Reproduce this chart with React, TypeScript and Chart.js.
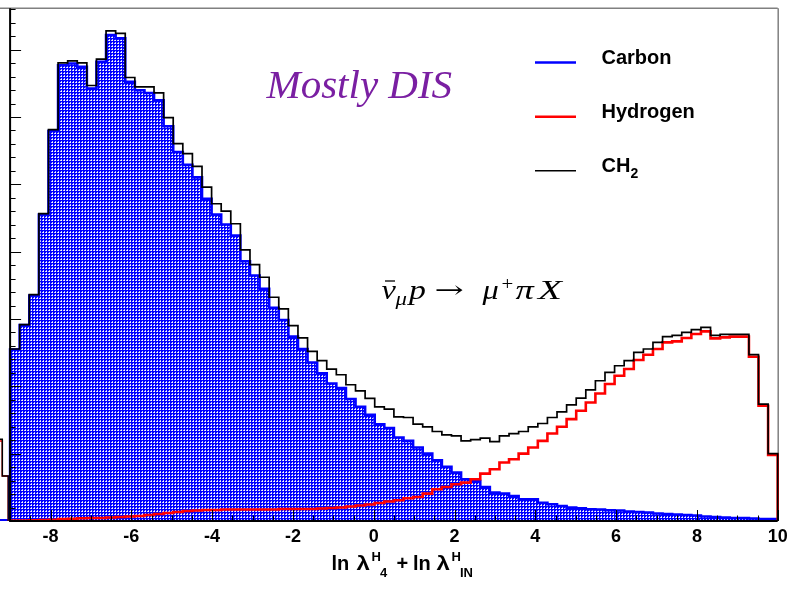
import React, { useEffect, useRef } from 'react';
import { Chart, registerables } from 'chart.js';
Chart.register(...registerables);

// Histogram binning (80 bins from -9 to 10)
const BIN_LOW = -9;
const BIN_HIGH = 10;
const N_BINS = 80;

// Visible x range of the pad (the left sliver shows the neighbouring pad's tail)
const X_VIEW_MIN = -9.25;
const X_VIEW_MAX = 10;
const Y_MAX = 7615;

// Carbon (blue, hatched)
const carbon = [
  2545, 2909, 3348, 4553, 5793, 6770, 6796, 6745, 6424, 6820,
  7217, 7168, 6522, 6398, 6358, 6250, 5863, 5480, 5290, 5104,
  4787, 4553, 4404, 4241, 3858, 3646, 3448, 3165, 2986, 2738,
  2555, 2355, 2192, 2043, 1975, 1811, 1696, 1577, 1436, 1379,
  1240, 1190, 1091, 1001, 903, 804, 719, 620, 595, 506,
  421, 406, 372, 323, 323, 272, 248, 223, 198, 189,
  174, 170, 160, 156, 141, 134, 126, 112, 104, 97,
  89, 82, 67, 60, 52, 45, 45, 37, 30, 30,
];

// Hydrogen (red)
const hydrogen = [
  7, 7, 12, 15, 19, 30, 34, 40, 45, 45,
  52, 60, 67, 74, 89, 104, 119, 134, 149, 156,
  164, 164, 171, 171, 171, 171, 171, 171, 179, 179,
  179, 179, 186, 193, 201, 216, 231, 246, 268, 290,
  308, 338, 357, 406, 472, 506, 546, 570, 621, 704,
  769, 868, 918, 1001, 1091, 1190, 1299, 1399, 1513, 1637,
  1760, 1894, 2034, 2158, 2257, 2391, 2470, 2555, 2653, 2668,
  2719, 2778, 2817, 2713, 2727, 2738, 2738, 2440, 1711, 982,
];

// CH2 (black)
const ch2 = [
  2555, 2916, 3363, 4564, 5814, 6805, 6834, 6805, 6468, 6860,
  7281, 7242, 6587, 6448, 6448, 6358, 5992, 5605, 5456, 5268,
  4960, 4712, 4602, 4415, 4028, 3809, 3620, 3323, 3150, 2902,
  2719, 2519, 2381, 2257, 2172, 2024, 1934, 1820, 1696, 1662,
  1548, 1537, 1439, 1399, 1329, 1280, 1265, 1190, 1210, 1231,
  1180, 1265, 1299, 1329, 1399, 1448, 1537, 1622, 1726, 1826,
  1949, 2083, 2207, 2306, 2381, 2504, 2555, 2653, 2738, 2757,
  2802, 2842, 2876, 2757, 2772, 2772, 2772, 2470, 1735, 1000,
];

// Tail of the neighbouring pad visible left of the y axis
const neighborEdges = [-9.25, -9.193, -9.045];
const neighborCH2 = [1216, 670];
const neighborHydrogen = [1190, 670];
const neighborCarbon = [15, 15];

const xTickLabels = ['-8', '-6', '-4', '-2', '0', '2', '4', '6', '8', '10'];

function histPoints(vals: number[]) {
  const w = (BIN_HIGH - BIN_LOW) / N_BINS;
  const pts: { x: number; y: number }[] = [{ x: BIN_LOW, y: 0 }];
  vals.forEach((v, i) => pts.push({ x: BIN_LOW + i * w, y: v }));
  pts.push({ x: BIN_HIGH, y: 0 });
  return pts;
}

function edgePoints(edges: number[], vals: number[]) {
  const pts = vals.map((v, i) => ({ x: edges[i], y: v }));
  pts.push({ x: edges[edges.length - 1], y: 0 });
  return pts;
}

function makePattern(ctx: CanvasRenderingContext2D) {
  const c = document.createElement('canvas');
  c.width = 3;
  c.height = 3;
  const g = c.getContext('2d')!;
  g.fillStyle = '#0000ff';
  g.fillRect(0, 0, 3, 3);
  g.fillStyle = '#ffffff';
  g.fillRect(1, 1, 1, 1);
  g.fillStyle = '#c4c4ff';
  g.fillRect(0, 1, 1, 1);
  g.fillRect(1, 0, 1, 1);
  return ctx.createPattern(c, 'repeat')!;
}

const SANS = '"Liberation Sans", Arial, Helvetica, sans-serif';
const SERIF = '"Liberation Serif", "Times New Roman", serif';

function drawScaled(ctx: CanvasRenderingContext2D, text: string, x: number, y: number, font: string, sx: number) {
  ctx.save();
  ctx.font = font;
  ctx.translate(x, y);
  ctx.scale(sx, 1);
  ctx.fillText(text, 0, 0);
  ctx.restore();
}

const decorPlugin = {
  id: 'rootDecor',
  beforeDatasetsDraw(chart: any) {
    const { ctx, chartArea } = chart;
    const xs = chart.scales.x;
    ctx.save();
    ctx.strokeStyle = '#808080';
    ctx.lineWidth = 1.5;
    ctx.beginPath();
    ctx.moveTo(0, chartArea.top);
    ctx.lineTo(xs.getPixelForValue(X_VIEW_MAX), chartArea.top);
    ctx.moveTo(xs.getPixelForValue(X_VIEW_MAX) + 0.5, chartArea.top);
    ctx.lineTo(xs.getPixelForValue(X_VIEW_MAX) + 0.5, chartArea.bottom);
    ctx.stroke();
    ctx.restore();
  },
  afterDatasetsDraw(chart: any) {
    const { ctx, chartArea } = chart;
    const xs = chart.scales.x;
    const ys = chart.scales.y;
    const x0 = xs.getPixelForValue(BIN_LOW);
    const x1 = xs.getPixelForValue(X_VIEW_MAX);
    const yb = ys.getPixelForValue(0);
    ctx.save();
    ctx.strokeStyle = '#000';
    ctx.lineWidth = 2;
    ctx.beginPath();
    ctx.moveTo(x0, chartArea.top);
    ctx.lineTo(x0, yb);
    ctx.lineTo(x1, yb);
    ctx.stroke();
    ctx.lineWidth = 1;
    ctx.beginPath();
    for (let v = 0; v <= Y_MAX; v += 200) {
      const y = Math.round(ys.getPixelForValue(v)) + 0.5;
      const len = v % 1000 === 0 ? 11 : 5.5;
      ctx.moveTo(x0, y);
      ctx.lineTo(x0 + len, y);
    }
    for (let t = -18; t <= 20; t++) {
      const v = t / 2;
      const x = Math.round(xs.getPixelForValue(v)) + 0.5;
      const len = t % 4 === 0 ? 11 : 5.5;
      ctx.moveTo(x, yb);
      ctx.lineTo(x, yb - len);
    }
    ctx.stroke();
    ctx.restore();
  },
  afterDraw(chart: any) {
    const { ctx } = chart;
    const ds = chart.data.datasets;
    ctx.save();
    // Legend
    const entries = [
      { d: ds[2], y: 62.5, text: 'Carbon', sub: '' },
      { d: ds[1], y: 116.7, text: 'Hydrogen', sub: '' },
      { d: ds[0], y: 170.7, text: 'CH', sub: '2' },
    ];
    ctx.textAlign = 'left';
    ctx.textBaseline = 'alphabetic';
    entries.forEach((e) => {
      ctx.strokeStyle = e.d.borderColor;
      ctx.lineWidth = e.d.borderColor === '#000000' ? 1.5 : 2.5;
      ctx.beginPath();
      ctx.moveTo(535, e.y);
      ctx.lineTo(576, e.y);
      ctx.stroke();
      ctx.fillStyle = '#000';
      ctx.font = `bold 20px ${SANS}`;
      ctx.fillText(e.text, 601.5, e.y + 1);
      if (e.sub) {
        const w = ctx.measureText(e.text).width;
        ctx.font = `bold 14px ${SANS}`;
        ctx.fillText(e.sub, 601.5 + w, e.y + 7.5);
      }
    });

    // "Mostly DIS"
    ctx.fillStyle = '#7a1fa2';
    ctx.font = `italic 41px ${SERIF}`;
    ctx.fillText('Mostly DIS', 266.5, 98.3);

    // Process label: ν̄_μ p → μ⁺ π X
    ctx.fillStyle = '#000';
    const big = `italic 27px ${SERIF}`;
    drawScaled(ctx, '\u03bd', 381.5, 299, big, 1.2);
    ctx.strokeStyle = '#000';
    ctx.lineWidth = 1.3;
    ctx.beginPath();
    ctx.moveTo(385, 281);
    ctx.lineTo(395, 281);
    ctx.stroke();
    drawScaled(ctx, '\u03bc', 395.5, 304.5, `italic 19px ${SERIF}`, 1.2);
    drawScaled(ctx, 'p', 409, 299, big, 1.25);
    drawScaled(ctx, '\u2192', 434.5, 298, `24px "DejaVu Serif", serif`, 1.45);
    drawScaled(ctx, '\u03bc', 482.5, 299, big, 1.2);
    drawScaled(ctx, '+', 501.5, 289.5, `19px ${SERIF}`, 1.1);
    drawScaled(ctx, '\u03c0', 515.5, 299, big, 1.35);
    drawScaled(ctx, 'X', 538, 299, big, 1.45);

    // x-axis title: ln λ^H_4 + ln λ^H_IN
    const tf = `bold 20px ${SANS}`;
    ctx.font = tf;
    ctx.fillText('ln', 331.5, 570);
    drawScaled(ctx, '\u03bb', 356.5, 570, tf, 1.2);
    ctx.font = tf;
    ctx.fillText('+', 396.5, 570);
    ctx.fillText('ln', 413, 570);
    drawScaled(ctx, '\u03bb', 436.5, 570, tf, 1.2);
    ctx.font = `bold 13px ${SANS}`;
    ctx.fillText('H', 371.5, 560.5);
    ctx.fillText('4', 380, 576.5);
    ctx.fillText('H', 451.5, 560.5);
    ctx.fillText('IN', 460, 576.5);
    ctx.restore();
  },
};

export default function App() {
  const ref = useRef<HTMLCanvasElement>(null);
  useEffect(() => {
    document.body.style.margin = '0';
    const canvas = ref.current!;
    const ctx = canvas.getContext('2d')!;
    const pattern = makePattern(ctx);
    const chart = new Chart(canvas, {
      type: 'line',
      data: {
        datasets: [
          { label: 'CH2', data: histPoints(ch2), borderColor: '#000000', borderWidth: 1.7, stepped: true, pointRadius: 0, fill: false, clip: 4 },
          { label: 'Hydrogen', data: histPoints(hydrogen), borderColor: '#ff0000', borderWidth: 2.6, stepped: true, pointRadius: 0, fill: false, clip: 4 },
          { label: 'Carbon', data: histPoints(carbon), borderColor: '#0000ff', borderWidth: 2.6, stepped: true, pointRadius: 0, fill: 'origin', backgroundColor: pattern, clip: 4 },
          { label: 'CH2 (adjacent pad)', data: edgePoints(neighborEdges, neighborCH2), borderColor: '#000000', borderWidth: 1.5, stepped: true, pointRadius: 0, fill: false },
          { label: 'Hydrogen (adjacent pad)', data: edgePoints(neighborEdges, neighborHydrogen), borderColor: '#ff0000', borderWidth: 1.5, stepped: true, pointRadius: 0, fill: false },
          { label: 'Carbon (adjacent pad)', data: edgePoints(neighborEdges, neighborCarbon), borderColor: '#0000ff', borderWidth: 2, stepped: true, pointRadius: 0, fill: false },
        ] as any,
      },
      options: {
        animation: false,
        responsive: false,
        layout: { padding: { left: 0, right: 18.3, top: 8.3, bottom: 36.4 } },
        plugins: { legend: { display: false }, tooltip: { enabled: false } },
        scales: {
          x: {
            type: 'linear',
            min: X_VIEW_MIN,
            max: X_VIEW_MAX,
            grid: { display: false, drawTicks: false },
            border: { display: false },
            ticks: {
              stepSize: 2,
              includeBounds: false,
              autoSkip: false,
              maxRotation: 0,
              padding: 5,
              color: '#000',
              font: { family: SANS, weight: 'bold', size: 18 },
              callback: (v: any) => {
                const s = String(v);
                return xTickLabels.includes(s) ? s : '';
              },
            },
          },
          y: { display: false, min: 0, max: Y_MAX },
        },
      } as any,
      plugins: [decorPlugin],
    });
    return () => chart.destroy();
  }, []);
  return (
    <div style={{ width: 796, height: 589, position: 'relative' }}>
      <canvas ref={ref} width={796} height={589} style={{ display: 'block' }} />
    </div>
  );
}
